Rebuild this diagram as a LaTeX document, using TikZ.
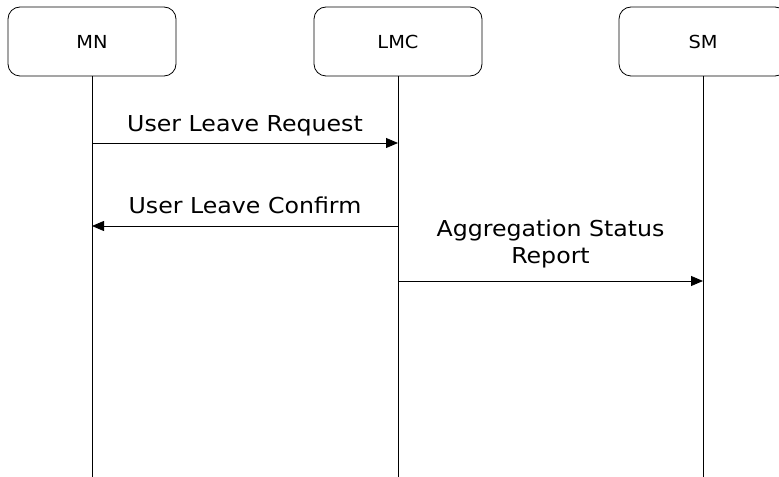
\documentclass[tikz,border=0pt]{standalone}
\usepackage{fontspec}
\setmainfont{DejaVu Sans}[FakeStretch=1.08]
\usetikzlibrary{arrows.meta, positioning}
\tikzset{
        x=1bp, y=-1bp, % picture units follow the image pixels
        entity/.style={draw, rounded corners=12bp, minimum width=168bp, minimum height=69bp,
                       inner sep=0pt, line width=0.8bp, font=\fontsize{18}{21}\selectfont}, % participant boxes
        lifeline/.style={line width=0.8bp},
        msg/.style={-{Triangle[length=12bp,width=10bp]}, line width=0.8bp}, % message arrows
        msglabel/.style={font=\fontsize{22}{27}\selectfont, align=center, inner sep=0pt},
    }

\begin{document}
\begin{tikzpicture}
    \useasboundingbox (0,0) rectangle (779,477);
    % participants
    \node[entity] (mn)  at (92,41.5)  {MN};
    \node[entity] (lmc) at (398,41.5) {LMC};
    \node[entity] (sm)  at (703,41.5) {SM};
    % lifelines
    \coordinate (mn-end)  at (92,477);
    \coordinate (lmc-end) at (398,477);
    \coordinate (sm-end)  at (703,477);
    \draw[lifeline] (mn) -- (mn-end);
    \draw[lifeline] (lmc) -- (lmc-end);
    \draw[lifeline] (sm) -- (sm-end);
    % messages
    \coordinate (req-mn)  at (92,143);
    \coordinate (req-lmc) at (398,143);
    \coordinate (cnf-mn)  at (92,226);
    \coordinate (cnf-lmc) at (398,226);
    \coordinate (agg-lmc) at (398,281);
    \coordinate (agg-sm)  at (703,281);
    \draw[msg] (req-mn) -- node[msglabel, above=7bp] (req) {User Leave Request} (req-lmc);
    \draw[msg] (cnf-lmc) -- node[msglabel, above=11.5bp] (cnf) {User Leave Confirm} (cnf-mn);
    \draw[msg] (agg-lmc) -- node[msglabel, above=12.5bp] (agg) {Aggregation Status\\Report} (agg-sm);
\end{tikzpicture}
\end{document}
